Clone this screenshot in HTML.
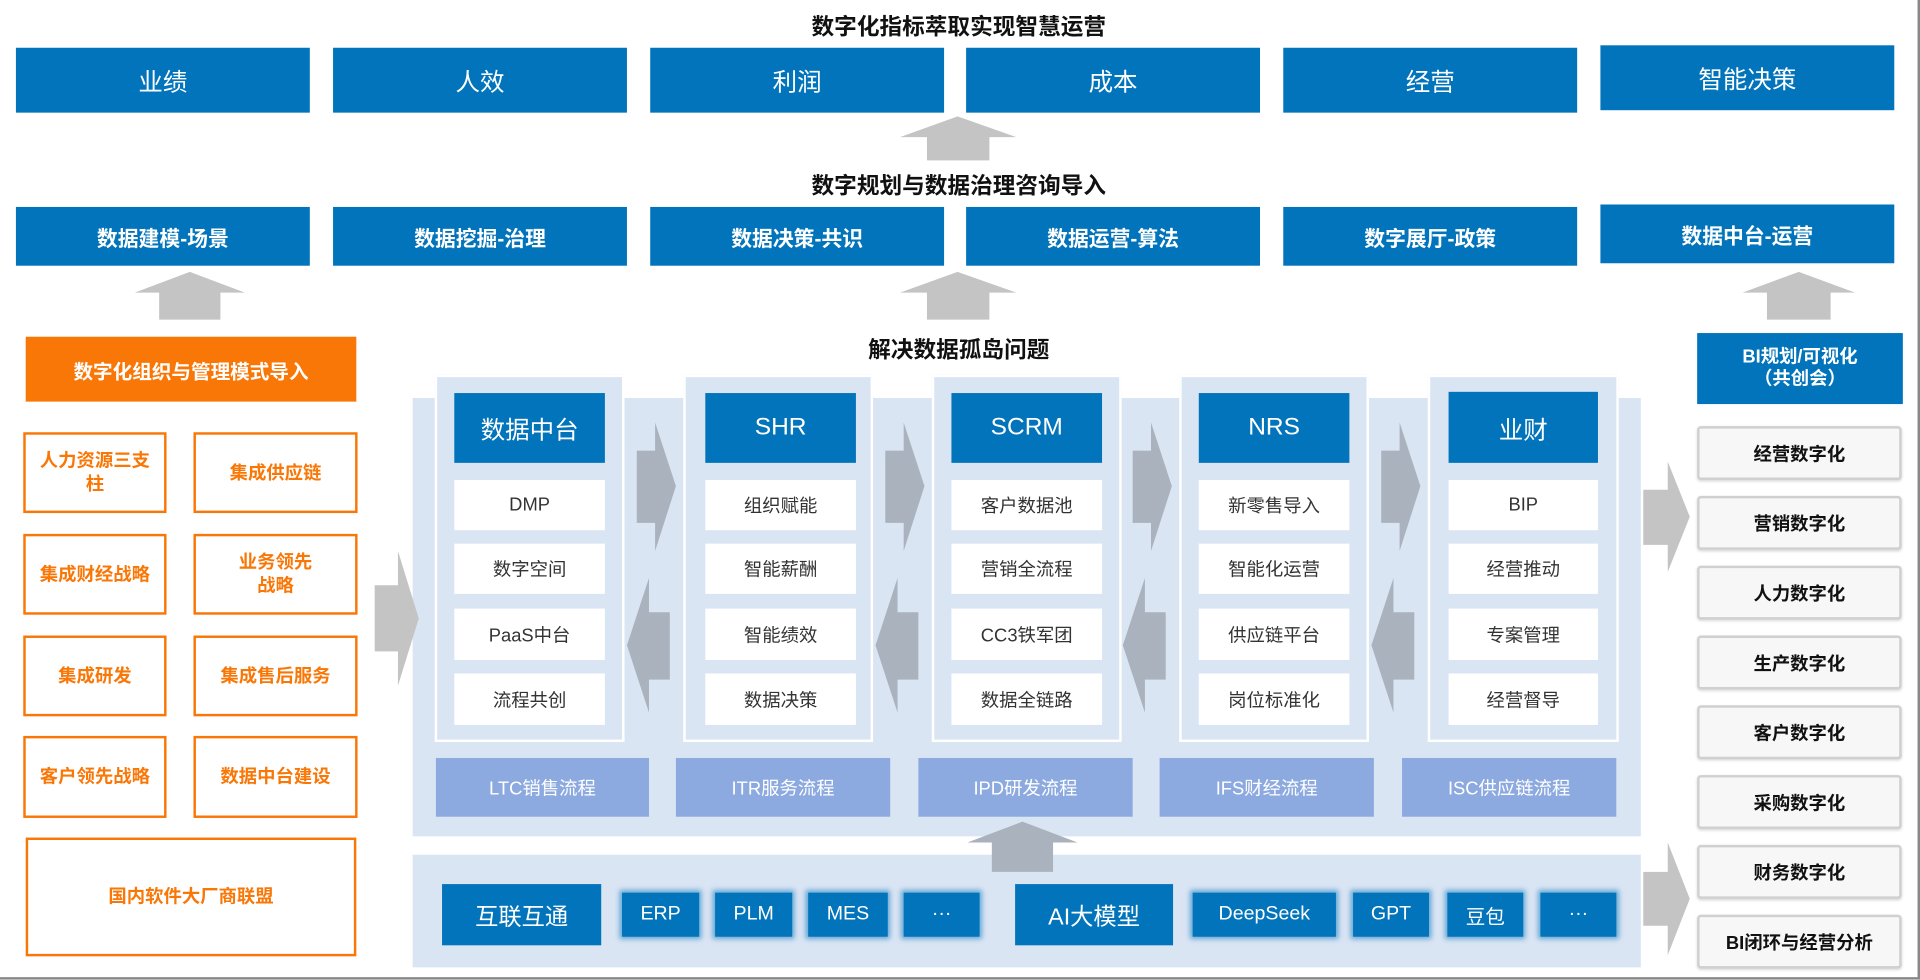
<!DOCTYPE html>
<html><head><meta charset="utf-8"><style>
html,body{margin:0;padding:0;background:#fff;}
body{width:1920px;height:980px;overflow:hidden;position:relative;}
#c{position:absolute;left:0;top:0;width:1568px;height:800px;transform:scale(1.22449);transform-origin:0 0;font-family:"Liberation Sans","Noto Sans CJK SC",sans-serif;}
.a{position:absolute;box-sizing:border-box;display:flex;align-items:center;justify-content:center;text-align:center;}
.t{position:absolute;font-weight:bold;font-size:18.5px;color:#111;text-align:center;}
.b{background:#0274BB;color:#fff;}
.top{font-size:20px;}
.sec{font-size:17px;font-weight:bold;}
.o{border:2px solid #F97707;color:#F97707;font-weight:bold;font-size:15px;line-height:19px;}
.col{background:#DAE5F4;border:2px solid #fff;}
.h{font-size:20px;}
.w{background:#fff;color:#333;font-size:15px;}
.p{background:#8CAADF;color:#fff;font-size:15px;}
.g{background:#f7f7f7;border:2px solid #d0d0d0;border-radius:3px;font-weight:bold;font-size:15px;color:#111;box-shadow:0 1px 2px rgba(0,0,0,.15);}
.s{box-shadow:0 0 4px 2px rgba(2,116,187,.55);font-size:16px;}
svg{position:absolute;left:0;top:0;}
</style></head><body><div id="c">
<svg width="1568" height="800">
<rect x="337" y="325" width="1003" height="358" fill="#DAE5F4"/>
<rect x="337" y="698" width="1003" height="92" fill="#DAE5F4"/>
<polygon points="735,112 782,95 830,112 808,112 808,131 757,131 757,112" fill="#C4C4C4"/>
<polygon points="110,239 155,222 200,239 180,239 180,261 130,261 130,239" fill="#C4C4C4"/>
<polygon points="735,239 782,222 830,239 808,239 808,261 757,261 757,239" fill="#C4C4C4"/>
<polygon points="1423,239 1469,222 1515,239 1495,239 1495,261 1443,261 1443,239" fill="#C4C4C4"/>
<polygon points="790,688 835,671 880,688 860,688 860,712 810,712 810,688" fill="#AAB2BD"/>
<polygon points="306,478 325,478 325,450 342,505 325,560 325,532 306,532" fill="#C4C4C4"/>
<polygon points="1342,400 1362,400 1362,377 1380,422 1362,467 1362,445 1342,445" fill="#C4C4C4"/>
<polygon points="1342,712 1362,712 1362,688 1380,734 1362,780 1362,756 1342,756" fill="#C4C4C4"/>
</svg>
<div class="t" style="left:583px;top:8px;width:400px;">数字化指标萃取实现智慧运营</div>
<div class="a b top" style="left:13px;top:39px;width:240px;height:53px;">业绩</div>
<div class="a b top" style="left:272px;top:39px;width:240px;height:53px;">人效</div>
<div class="a b top" style="left:531px;top:39px;width:240px;height:53px;">利润</div>
<div class="a b top" style="left:789px;top:39px;width:240px;height:53px;">成本</div>
<div class="a b top" style="left:1048px;top:39px;width:240px;height:53px;">经营</div>
<div class="a b top" style="left:1307px;top:37px;width:240px;height:53px;">智能决策</div>
<div class="t" style="left:583px;top:138px;width:400px;">数字规划与数据治理咨询导入</div>
<div class="a b sec" style="left:13px;top:169px;width:240px;height:48px;">数据建模-场景</div>
<div class="a b sec" style="left:272px;top:169px;width:240px;height:48px;">数据挖掘-治理</div>
<div class="a b sec" style="left:531px;top:169px;width:240px;height:48px;">数据决策-共识</div>
<div class="a b sec" style="left:789px;top:169px;width:240px;height:48px;">数据运营-算法</div>
<div class="a b sec" style="left:1048px;top:169px;width:240px;height:48px;">数字展厅-政策</div>
<div class="a b sec" style="left:1307px;top:167px;width:240px;height:48px;">数据中台-运营</div>
<div class="t" style="left:583px;top:272px;width:400px;">解决数据孤岛问题</div>
<div class="a" style="left:21px;top:275px;width:270px;height:53px;background:#F97707;color:#fff;font-weight:bold;font-size:16px;">数字化组织与管理模式导入</div>
<div class="a o" style="left:19px;top:353px;width:117px;height:66px;">人力资源三支<br>柱</div>
<div class="a o" style="left:158px;top:353px;width:134px;height:66px;">集成供应链</div>
<div class="a o" style="left:19px;top:436px;width:117px;height:66px;">集成财经战略</div>
<div class="a o" style="left:158px;top:436px;width:134px;height:66px;">业务领先<br>战略</div>
<div class="a o" style="left:19px;top:519px;width:117px;height:66px;">集成研发</div>
<div class="a o" style="left:158px;top:519px;width:134px;height:66px;">集成售后服务</div>
<div class="a o" style="left:19px;top:601px;width:117px;height:67px;">客户领先战略</div>
<div class="a o" style="left:158px;top:601px;width:134px;height:67px;">数据中台建设</div>
<div class="a o" style="left:21px;top:684px;width:270px;height:97px;">国内软件大厂商联盟</div>
<div class="a col" style="left:355px;top:306px;width:155px;height:300px;"></div>
<div class="a col" style="left:558px;top:306px;width:155px;height:300px;"></div>
<div class="a col" style="left:761px;top:306px;width:155px;height:300px;"></div>
<div class="a col" style="left:963px;top:306px;width:155px;height:300px;"></div>
<div class="a col" style="left:1166px;top:306px;width:156px;height:300px;"></div>
<svg width="1568" height="800">
<g fill="#AAB2BD">
<polygon points="520,368 535,368 535,345 552,397 535,450 535,427 520,427"/>
<polygon points="723,368 738,368 738,345 755,397 738,450 738,427 723,427"/>
<polygon points="925,368 940,368 940,345 957,397 940,450 940,427 925,427"/>
<polygon points="1128,368 1143,368 1143,345 1160,397 1143,450 1143,427 1128,427"/>
<polygon points="547,500 530,500 530,472 512,527 530,582 530,555 547,555"/>
<polygon points="750,500 733,500 733,472 715,527 733,582 733,555 750,555"/>
<polygon points="952,500 935,500 935,472 917,527 935,582 935,555 952,555"/>
<polygon points="1155,500 1138,500 1138,472 1120,527 1138,582 1138,555 1155,555"/>
</g></svg>
<div class="a b h" style="left:371px;top:321px;width:123px;height:57px;">数据中台</div>
<div class="a w" style="left:371px;top:392px;width:123px;height:41px;">DMP</div>
<div class="a w" style="left:371px;top:444px;width:123px;height:41px;">数字空间</div>
<div class="a w" style="left:371px;top:497px;width:123px;height:42px;">PaaS中台</div>
<div class="a w" style="left:371px;top:550px;width:123px;height:42px;">流程共创</div>
<div class="a b h" style="left:576px;top:321px;width:123px;height:57px;">SHR</div>
<div class="a w" style="left:576px;top:392px;width:123px;height:41px;">组织赋能</div>
<div class="a w" style="left:576px;top:444px;width:123px;height:41px;">智能薪酬</div>
<div class="a w" style="left:576px;top:497px;width:123px;height:42px;">智能绩效</div>
<div class="a w" style="left:576px;top:550px;width:123px;height:42px;">数据决策</div>
<div class="a b h" style="left:777px;top:321px;width:123px;height:57px;">SCRM</div>
<div class="a w" style="left:777px;top:392px;width:123px;height:41px;">客户数据池</div>
<div class="a w" style="left:777px;top:444px;width:123px;height:41px;">营销全流程</div>
<div class="a w" style="left:777px;top:497px;width:123px;height:42px;">CC3铁军团</div>
<div class="a w" style="left:777px;top:550px;width:123px;height:42px;">数据全链路</div>
<div class="a b h" style="left:979px;top:321px;width:123px;height:57px;">NRS</div>
<div class="a w" style="left:979px;top:392px;width:123px;height:41px;">新零售导入</div>
<div class="a w" style="left:979px;top:444px;width:123px;height:41px;">智能化运营</div>
<div class="a w" style="left:979px;top:497px;width:123px;height:42px;">供应链平台</div>
<div class="a w" style="left:979px;top:550px;width:123px;height:42px;">岗位标准化</div>
<div class="a b h" style="left:1183px;top:320px;width:122px;height:58px;">业财</div>
<div class="a w" style="left:1183px;top:392px;width:122px;height:41px;">BIP</div>
<div class="a w" style="left:1183px;top:444px;width:122px;height:41px;">经营推动</div>
<div class="a w" style="left:1183px;top:497px;width:122px;height:42px;">专案管理</div>
<div class="a w" style="left:1183px;top:550px;width:122px;height:42px;">经营督导</div>
<div class="a p" style="left:356px;top:619px;width:174px;height:48px;">LTC销售流程</div>
<div class="a p" style="left:552px;top:619px;width:175px;height:48px;">ITR服务流程</div>
<div class="a p" style="left:750px;top:619px;width:175px;height:48px;">IPD研发流程</div>
<div class="a p" style="left:947px;top:619px;width:175px;height:48px;">IFS财经流程</div>
<div class="a p" style="left:1145px;top:619px;width:175px;height:48px;">ISC供应链流程</div>
<div class="a b" style="left:361px;top:722px;width:130px;height:50px;font-size:19px;">互联互通</div>
<div class="a b s" style="left:508px;top:729px;width:63px;height:36px;">ERP</div>
<div class="a b s" style="left:584px;top:729px;width:63px;height:36px;">PLM</div>
<div class="a b s" style="left:660px;top:729px;width:65px;height:36px;">MES</div>
<div class="a b s" style="left:738px;top:729px;width:62px;height:36px;">···</div>
<div class="a b" style="left:829px;top:722px;width:129px;height:50px;font-size:19px;">AI大模型</div>
<div class="a b s" style="left:974px;top:729px;width:117px;height:36px;">DeepSeek</div>
<div class="a b s" style="left:1105px;top:729px;width:62px;height:36px;">GPT</div>
<div class="a b s" style="left:1182px;top:729px;width:62px;height:36px;">豆包</div>
<div class="a b s" style="left:1258px;top:729px;width:62px;height:36px;">···</div>
<div class="a b" style="left:1386px;top:272px;width:168px;height:58px;font-size:15px;font-weight:bold;line-height:18px;">BI规划/可视化<br>（共创会）</div>
<div class="a g" style="left:1386px;top:348px;width:167px;height:44px;">经营数字化</div>
<div class="a g" style="left:1386px;top:405px;width:167px;height:44px;">营销数字化</div>
<div class="a g" style="left:1386px;top:462px;width:167px;height:44px;">人力数字化</div>
<div class="a g" style="left:1386px;top:519px;width:167px;height:44px;">生产数字化</div>
<div class="a g" style="left:1386px;top:576px;width:167px;height:44px;">客户数字化</div>
<div class="a g" style="left:1386px;top:633px;width:167px;height:44px;">采购数字化</div>
<div class="a g" style="left:1386px;top:690px;width:167px;height:44px;">财务数字化</div>
<div class="a g" style="left:1386px;top:747px;width:167px;height:44px;">BI闭环与经营分析</div>
<div style="position:absolute;left:0;top:798px;width:1568px;height:2px;background:#888;"></div>
<div style="position:absolute;left:1566px;top:0;width:2px;height:800px;background:#888;"></div>
</div></body></html>
